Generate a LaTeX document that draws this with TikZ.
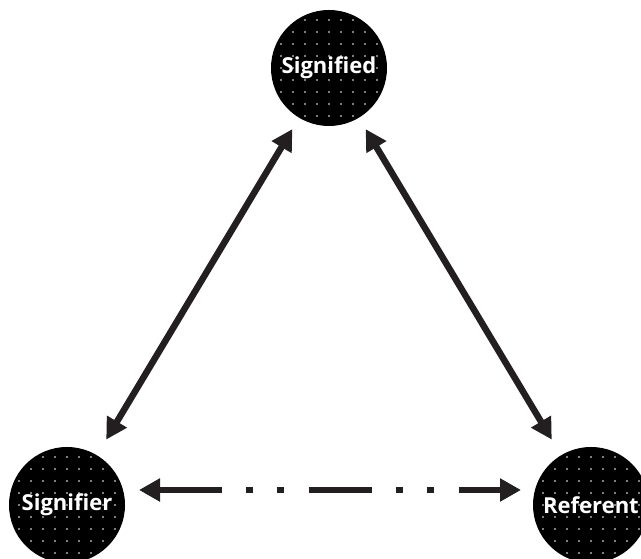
\documentclass[tikz,border=0pt]{standalone}
\usepackage{fontspec}
\usepackage{tikz}
\usetikzlibrary{arrows.meta,calc,positioning}
\newfontfamily\labelfont{Open Sans}
\definecolor{ink}{RGB}{35,31,32}

\begin{document}
\begin{tikzpicture}[x=1pt,y=1pt,line width=6.5pt,draw=ink,
            >={Triangle[length=21pt,width=22pt]},node distance=524pt]
        \tikzstyle{dotdisc}=[circle,fill=black,inner sep=0pt,minimum size=116pt,
            text=white,font=\labelfont\bfseries\fontsize{22}{24}\selectfont,
            path picture={
                \foreach \i in {-5,...,5}
                    \foreach \j in {-5,...,5}
                        \fill[white] ($(path picture bounding box.center)+(\i*12pt,\j*12pt)$) circle (0.9pt);
            }]
        \tikzstyle{dashdotdot}=[dash pattern=on 63pt off 24pt on 7pt off 24pt on 7pt off 25pt]

        \useasboundingbox (0,0) rectangle (641,559);
        \clip (0,0) rectangle (641,559);

        \node[dotdisc] (sgd) at (329,491) {Signified};
        \node[dotdisc] (sgr) at (67,54) {Signifier};
        \node[dotdisc, right=of sgr.center, anchor=center] (ref) {Referent};

        \coordinate (sgrR) at ($(sgr.center)+(72,15)$);
        \coordinate (refL) at ($(ref.center)+(-70,15)$);

        \draw[ink,<->,shorten <=15pt,shorten >=10pt] (sgr) -- (sgd);
        \draw[ink,<->,shorten <=10pt,shorten >=15pt] (sgd) -- (ref);
        \draw[ink,<->,dashdotdot] (sgrR) -- (refL);
    \end{tikzpicture}
\end{document}
